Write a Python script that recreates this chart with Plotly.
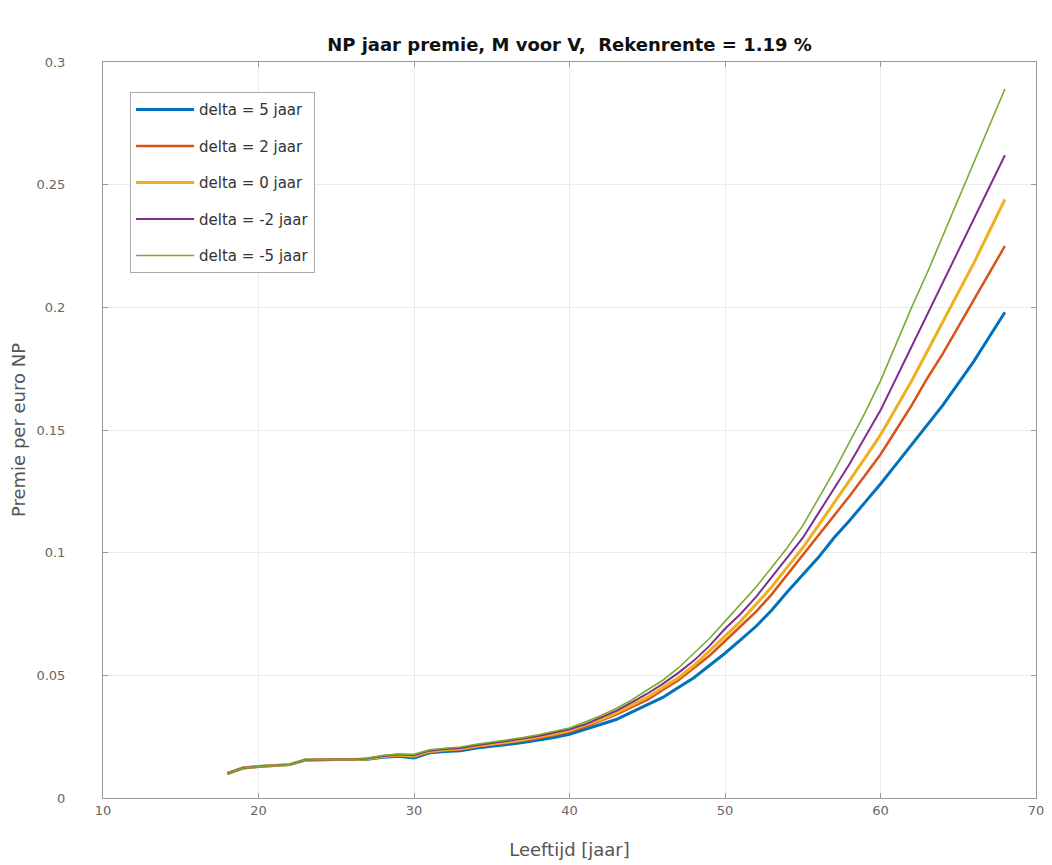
import plotly.graph_objects as go

ages = list(range(18, 69))

delta_p5 = [0.0100, 0.0122, 0.0128, 0.0133, 0.0136, 0.0155, 0.0157, 0.0157, 0.0157, 0.0158,
            0.0166, 0.0170, 0.0163, 0.0184, 0.0190, 0.0193, 0.0204, 0.0210, 0.0218, 0.0226,
            0.0236, 0.0247, 0.0260, 0.0280, 0.0300, 0.0320, 0.0350, 0.0380, 0.0410, 0.0450,
            0.0490, 0.0540, 0.0590, 0.0645, 0.0700, 0.0765, 0.0840, 0.0910, 0.0980, 0.1060,
            0.1130, 0.1205, 0.1280, 0.1360, 0.1440, 0.1520, 0.1600, 0.1690, 0.1780, 0.1880,
            0.1980]
delta_p2 = [0.0100, 0.0122, 0.0128, 0.0133, 0.0136, 0.0155, 0.0157, 0.0157, 0.0157, 0.0159,
            0.0168, 0.0173, 0.0168, 0.0188, 0.0194, 0.0198, 0.0209, 0.0216, 0.0224, 0.0233,
            0.0243, 0.0256, 0.0270, 0.0290, 0.0315, 0.0340, 0.0370, 0.0400, 0.0440, 0.0480,
            0.0530, 0.0580, 0.0640, 0.0700, 0.0760, 0.0830, 0.0910, 0.0990, 0.1070, 0.1150,
            0.1230, 0.1315, 0.1400, 0.1500, 0.1600, 0.1710, 0.1810, 0.1920, 0.2030, 0.2140,
            0.2250]
delta_0 = [0.0100, 0.0122, 0.0128, 0.0133, 0.0136, 0.0155, 0.0157, 0.0157, 0.0157, 0.0160,
           0.0169, 0.0175, 0.0171, 0.0190, 0.0197, 0.0201, 0.0212, 0.0219, 0.0228, 0.0237,
           0.0248, 0.0261, 0.0275, 0.0297, 0.0320, 0.0347, 0.0378, 0.0410, 0.0450, 0.0490,
           0.0540, 0.0600, 0.0660, 0.0720, 0.0790, 0.0860, 0.0940, 0.1020, 0.1110, 0.1200,
           0.1290, 0.1385, 0.1480, 0.1590, 0.1700, 0.1820, 0.1940, 0.2060, 0.2180, 0.2310,
           0.2440]
delta_m2 = [0.0100, 0.0122, 0.0128, 0.0133, 0.0136, 0.0155, 0.0157, 0.0157, 0.0157, 0.0161,
            0.0171, 0.0177, 0.0174, 0.0193, 0.0200, 0.0204, 0.0215, 0.0223, 0.0232, 0.0242,
            0.0253, 0.0266, 0.0280, 0.0300, 0.0328, 0.0355, 0.0390, 0.0425, 0.0465, 0.0510,
            0.0560, 0.0620, 0.0690, 0.0750, 0.0820, 0.0900, 0.0980, 0.1060, 0.1160, 0.1260,
            0.1360, 0.1470, 0.1580, 0.1710, 0.1840, 0.1970, 0.2100, 0.2230, 0.2360, 0.2490,
            0.2620]
delta_m5 = [0.0100, 0.0122, 0.0128, 0.0133, 0.0136, 0.0155, 0.0157, 0.0157, 0.0157, 0.0162,
            0.0173, 0.0179, 0.0178, 0.0196, 0.0203, 0.0208, 0.0219, 0.0227, 0.0236, 0.0246,
            0.0258, 0.0271, 0.0285, 0.0310, 0.0335, 0.0365, 0.0400, 0.0440, 0.0480, 0.0530,
            0.0590, 0.0650, 0.0720, 0.0790, 0.0860, 0.0940, 0.1020, 0.1110, 0.1220, 0.1330,
            0.1450, 0.1570, 0.1700, 0.1850, 0.2000, 0.2140, 0.2290, 0.2440, 0.2590, 0.2740,
            0.2890]

series = [
    ("delta = 5 jaar", delta_p5, "#0072BD", 3.0),
    ("delta = 2 jaar", delta_p2, "#D95319", 2.5),
    ("delta = 0 jaar", delta_0, "#EDB120", 3.0),
    ("delta = -2 jaar", delta_m2, "#7E2F8E", 2.0),
    ("delta = -5 jaar", delta_m5, "#77AC30", 1.6),
]

x_ticks = [10, 20, 30, 40, 50, 60, 70]
y_ticks = [0, 0.05, 0.1, 0.15, 0.2, 0.25, 0.3]
y_tick_labels = ["0", "0.05", "0.1", "0.15", "0.2", "0.25", "0.3"]

FONT = "DejaVu Sans, Liberation Sans, Arial"

fig = go.Figure()
for i, (name, vals, color, width) in enumerate(series):
    fig.add_trace(go.Scatter(x=ages, y=vals, mode="lines", name=name,
                             legendgroup=f"g{i}",
                             line=dict(color=color, width=width)))

axis_common = dict(
    showline=True, linecolor="#999999", linewidth=1, mirror="ticks",
    ticks="inside", ticklen=5, tickcolor="#999999",
    showgrid=True, gridcolor="#ebebeb", gridwidth=1, zeroline=False,
    tickfont=dict(family=FONT, size=13, color="#666666"),
    automargin=False,
)

fig.update_layout(
    width=1052, height=865,
    margin=dict(l=103, r=16, t=62, b=67),
    paper_bgcolor="white", plot_bgcolor="white",
    title=dict(text="<b>NP jaar premie, M voor V,  Rekenrente = 1.19 %</b>",
               x=0.5, xref="paper", xanchor="center", y=0.948, yanchor="middle",
               font=dict(family=FONT, size=18, color="#111111")),
    xaxis=dict(range=[10, 70], tickvals=x_ticks,
               title=dict(text="Leeftijd [jaar]", standoff=26,
                          font=dict(family=FONT, size=18, color="#555555")),
               **axis_common),
    yaxis=dict(range=[0, 0.3], tickvals=y_ticks, ticktext=y_tick_labels,
               ticklabelstandoff=34,
               title=dict(text="Premie per euro NP", standoff=6,
                          font=dict(family=FONT, size=18, color="#555555")),
               **axis_common),
    legend=dict(x=0.029, y=0.959, xanchor="left", yanchor="top",
                bgcolor="white", bordercolor="#aaaaaa", borderwidth=1,
                tracegroupgap=14, itemwidth=58,
                font=dict(family=FONT, size=15, color="#333333")),
    showlegend=True,
)

fig.write_html("out.html")
